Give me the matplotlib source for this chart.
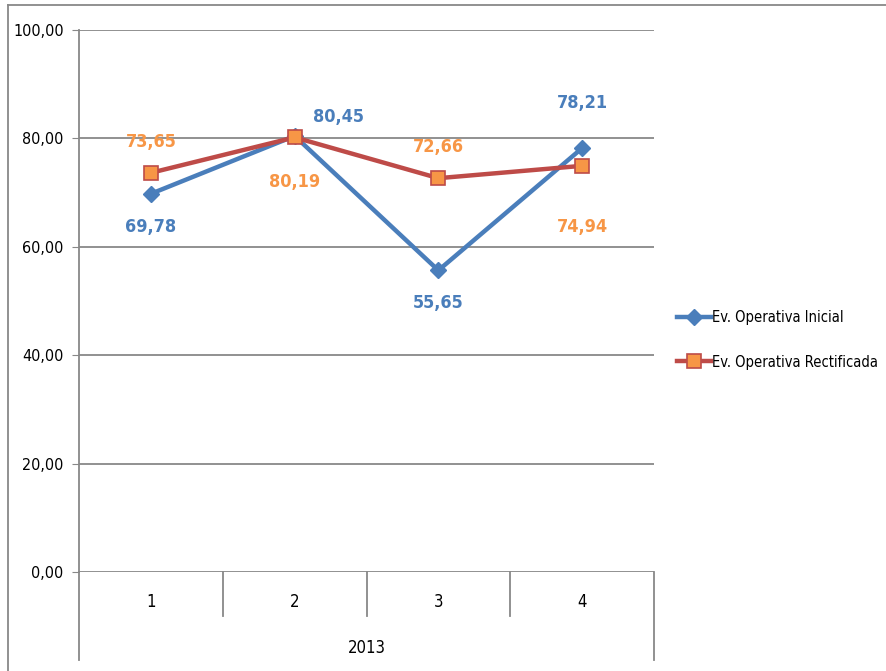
import matplotlib
matplotlib.use("Agg")
import matplotlib.pyplot as plt
from matplotlib import font_manager
from matplotlib.lines import Line2D

# pick a narrow font if we have one
names = set(f.name for f in font_manager.fontManager.ttflist)
fam = "Liberation Sans Narrow" if "Liberation Sans Narrow" in names else "DejaVu Sans"
plt.rcParams['font.family'] = fam
plt.rcParams['font.stretch'] = "condensed"

categories = ["1", "2", "3", "4"]
year_label = "2013"
inicial = [69.78, 80.45, 55.65, 78.21]
rectificada = [73.65, 80.19, 72.66, 74.94]
y_ticks = [0, 20, 40, 60, 80, 100]
series_names = ["Ev. Operativa Inicial", "Ev. Operativa Rectificada"]

blue = "#4A7EBB"
red = "#BE4B48"
orange = "#F79646"
grid_c = "#888888"

W, H = 886, 671
fig = plt.figure(figsize=(W / 100, H / 100), dpi=100)
ax = fig.add_axes([79 / W, (H - 572) / H, (654 - 79) / W, (572 - 30) / H])

x = list(range(1, len(categories) + 1))
ax.plot(x, inicial, color=blue, lw=3.2, marker="D", ms=8, mfc=blue, mec=blue, zorder=3)
ax.plot(x, rectificada, color=red, lw=3.2, marker="s", ms=10, mfc=orange, mec=red, mew=1.2, zorder=4)

ax.set_xlim(0.5, len(categories) + 0.5)
ax.set_ylim(0, 100)
ax.set_yticks(y_ticks)
ax.set_yticklabels([f"{v:.2f}".replace(".", ",") for v in y_ticks], fontsize=11.5)
ax.tick_params(axis="y", length=5, color=grid_c, pad=6)
ax.set_xticks([])
ax.grid(axis="y", color=grid_c, lw=1.3)
ax.set_axisbelow(True)
for s in ["top", "right", "bottom"]:
    ax.spines[s].set_visible(False)
ax.spines["left"].set_color(grid_c)
ax.spines["left"].set_linewidth(1.3)

# data labels (pixel offsets)
off_blue = [(0, -33), (44, 19), (0, -33), (0, 45)]
off_orange = [(0, 31), (0, -45), (0, 31), (0, -61)]
for i in range(len(x)):
    ax.annotate(f"{inicial[i]:.2f}".replace(".", ","), (x[i], inicial[i]),
                xytext=off_blue[i], textcoords="offset pixels", ha="center", va="center",
                color=blue, fontsize=13, fontweight="bold")
    ax.annotate(f"{rectificada[i]:.2f}".replace(".", ","), (x[i], rectificada[i]),
                xytext=off_orange[i], textcoords="offset pixels", ha="center", va="center",
                color=orange, fontsize=13, fontweight="bold")

# category axis below the plot
tr = ax.get_xaxis_transform()
for i in range(len(categories) + 1):
    xb = i + 0.5
    y_end = -88 / 542 if i in (0, len(categories)) else -44 / 542
    ax.plot([xb, xb], [0, y_end], transform=tr, color=grid_c, lw=1.3, clip_on=False)
for i, c in enumerate(categories):
    ax.text(x[i], -30 / 542, c, transform=tr, ha="center", va="center", fontsize=12)
ax.text((len(categories) + 1) / 2, -76 / 542, year_label, transform=tr,
        ha="center", va="center", fontsize=12)

# chart border (top and left visible)
fig.add_artist(Line2D([8 / W, 8 / W], [0, 1 - 5 / H], color=grid_c, lw=1.3))
fig.add_artist(Line2D([8 / W, 1], [1 - 5 / H, 1 - 5 / H], color=grid_c, lw=1.3))

handles = [
    Line2D([], [], color=blue, lw=3.2, marker="D", ms=8, mfc=blue, mec=blue),
    Line2D([], [], color=red, lw=3.2, marker="s", ms=10, mfc=orange, mec=red, mew=1.2),
]
fig.legend(handles, series_names, loc="center left", bbox_to_anchor=(664 / W, (H - 340) / H),
           frameon=False, fontsize=10.5, handlelength=2.3, handletextpad=0.1, labelspacing=2.0)

fig.savefig("out.png", dpi=100)
